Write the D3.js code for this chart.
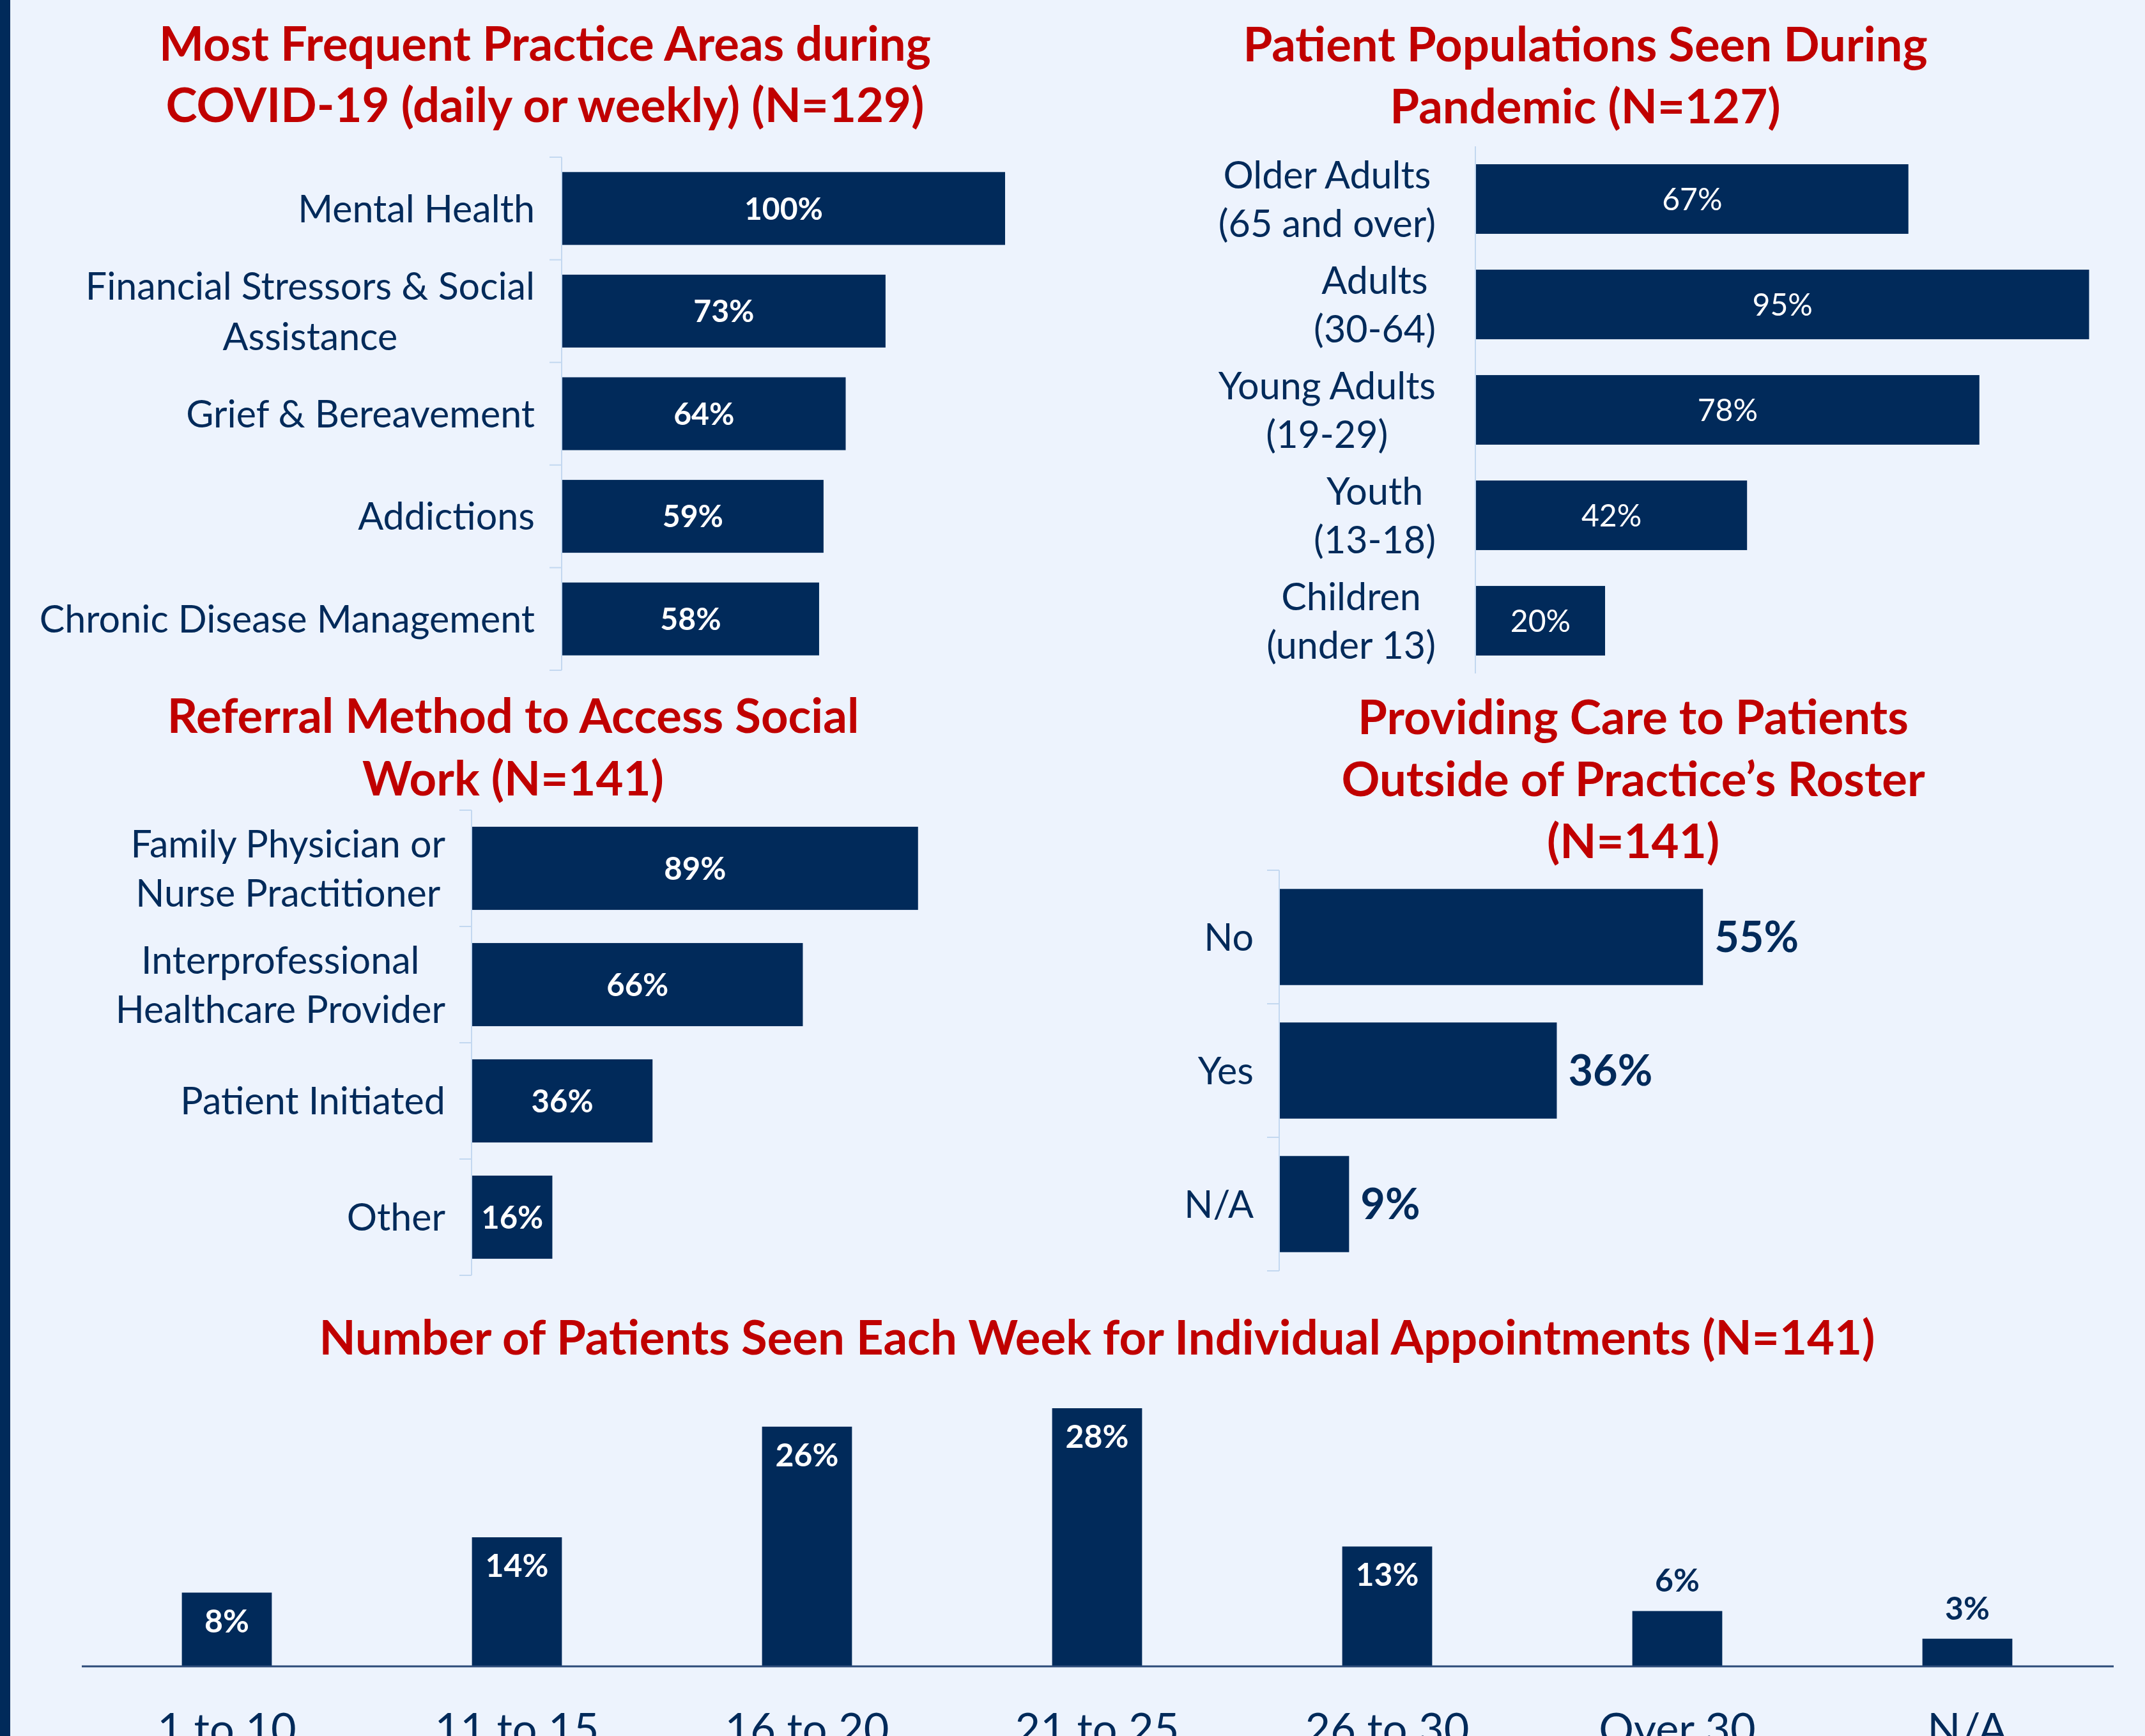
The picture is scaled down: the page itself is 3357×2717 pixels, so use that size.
<!DOCTYPE html>
<html>
<head>
<meta charset="utf-8">
<script src="https://cdn.jsdelivr.net/npm/d3@7"></script>
<style>
body { margin: 0; background: #edf3fd; overflow: hidden; }
text { font-family: Lato, "Open Sans", sans-serif; }
</style>
</head>
<body>
<script>
var W = 3357, H = 2717;
var NAVY = "#012a5a", RED = "#c00000", AXIS = "#c3d8f0", BG = "#edf3fd";
var FS = 0.925;  // Lato runs wider than the original font
var TFS = 0.94;  // same for the bold titles

// Most frequent practice areas
var practiceAreas = ["Mental Health", "Financial Stressors & Social\nAssistance", "Grief & Bereavement", "Addictions", "Chronic Disease Management"];
var practiceValues = [100, 73, 64, 59, 58];

// Patient populations
var populations = ["Older Adults\n(65 and over)", "Adults\n(30-64)", "Young Adults\n(19-29)", "Youth\n(13-18)", "Children\n(under 13)"];
var populationValues = [67, 95, 78, 42, 20];

// Referral method
var referrals = ["Family Physician or\nNurse Practitioner", "Interprofessional\nHealthcare Provider", "Patient Initiated", "Other"];
var referralValues = [89, 66, 36, 16];

// Outside roster
var rosterAnswers = ["No", "Yes", "N/A"];
var rosterValues = [55, 36, 9];

// Patients per week
var weeklyRanges = ["1 to 10", "11 to 15", "16 to 20", "21 to 25", "26 to 30", "Over 30", "N/A"];
var weeklyValues = [8, 14, 26, 28, 13, 6, 3];

var svg = d3.select("body").append("svg")
    .attr("width", W)
    .attr("height", H);

svg.append("rect").attr("width", W).attr("height", H).attr("fill", BG);
svg.append("rect").attr("width", 16).attr("height", H).attr("fill", NAVY);

function title(lines, cx, baselines) {
    var t = svg.append("text")
        .attr("text-anchor", "middle")
        .attr("fill", RED)
        .attr("font-weight", 700)
        .attr("font-size", 79 * TFS);
    lines.forEach(function(l, i) {
        t.append("tspan").attr("x", cx).attr("y", baselines[i]).text(l);
    });
}

// horizontal bar panel
function hbar(cfg) {
    var g = svg.append("g");
    var y = d3.scaleBand()
        .domain(cfg.cats)
        .range([cfg.top, cfg.bottom])
        .paddingInner(cfg.pad)
        .paddingOuter(cfg.pad / 2);
    var x = d3.scaleLinear().domain([0, 100]).range([cfg.x0, cfg.x0 + cfg.full]);

    g.append("line")
        .attr("x1", cfg.x0 - 1).attr("x2", cfg.x0 - 1)
        .attr("y1", cfg.top).attr("y2", cfg.bottom)
        .attr("stroke", AXIS).attr("stroke-width", 2);

    if (cfg.ticks) {
        g.selectAll(".tick")
            .data(d3.range(cfg.cats.length + 1))
            .enter().append("line")
            .attr("x1", cfg.x0 - 20).attr("x2", cfg.x0 - 1)
            .attr("y1", function(i) { return cfg.top + i * y.step(); })
            .attr("y2", function(i) { return cfg.top + i * y.step(); })
            .attr("stroke", AXIS).attr("stroke-width", 2);
    }

    var data = cfg.cats.map(function(c, i) { return {cat: c, v: cfg.values[i]}; });

    g.selectAll(".bar")
        .data(data)
        .enter().append("rect")
        .attr("x", x(0))
        .attr("y", function(d) { return y(d.cat); })
        .attr("width", function(d) { return x(d.v) - x(0); })
        .attr("height", y.bandwidth())
        .attr("fill", NAVY);

    // category labels: block right aligned, lines centred in it
    data.forEach(function(d) {
        var lines = d.cat.split("\n");
        var cy = y(d.cat) + y.bandwidth() / 2;
        var fsz = 64 * FS;
        var t = g.append("text")
            .attr("text-anchor", "middle")
            .attr("fill", NAVY)
            .attr("font-size", fsz);
        var spans = lines.map(function(l, i) {
            return t.append("tspan")
                .attr("x", 0)
                .attr("y", cy + (i - (lines.length - 1) / 2) * cfg.lh + fsz * 0.36)
                .text(l);
        });
        var w = d3.max(spans, function(s) { return s.node().getComputedTextLength(); });
        spans.forEach(function(s) { s.attr("x", cfg.labelRight - w / 2); });
    });

    // value labels
    g.selectAll(".val")
        .data(data)
        .enter().append("text")
        .attr("x", function(d) {
            return cfg.outside ? x(d.v) + 18 : (x(0) + x(d.v)) / 2;
        })
        .attr("y", function(d) { return y(d.cat) + y.bandwidth() / 2; })
        .attr("dy", "0.36em")
        .attr("text-anchor", cfg.outside ? "start" : "middle")
        .attr("fill", cfg.outside ? NAVY : "#ffffff")
        .attr("font-weight", cfg.bold ? 700 : 400)
        .attr("font-size", cfg.valueSize * FS)
        .text(function(d) { return d.v + "%"; });
}

title(["Most Frequent Practice Areas during", "COVID-19 (daily or weekly) (N=129)"], 853, [95, 191]);
hbar({cats: practiceAreas, values: practiceValues, top: 246, bottom: 1049, pad: 0.29,
      x0: 880, full: 693, labelRight: 837, lh: 79, ticks: true, bold: true, valueSize: 52});

title(["Patient Populations Seen During", "Pandemic (N=127)"], 2481, [96, 193]);
hbar({cats: populations, values: populationValues, top: 229, bottom: 1054, pad: 0.34,
      x0: 2310, full: 1010, labelRight: 2247, lh: 76, ticks: false, bold: false, valueSize: 52});

title(["Referral Method to Access Social", "Work (N=141)"], 803, [1147, 1245]);
hbar({cats: referrals, values: referralValues, top: 1268, bottom: 1996, pad: 0.285,
      x0: 739, full: 784, labelRight: 697, lh: 77, ticks: true, bold: true, valueSize: 53});

title(["Providing Care to Patients", "Outside of Practice\u2019s Roster", "(N=141)"], 2556, [1149, 1246, 1343]);
hbar({cats: rosterAnswers, values: rosterValues, top: 1362, bottom: 1989, pad: 0.28,
      x0: 2003, full: 1204, labelRight: 1962, lh: 77, ticks: true, bold: true, valueSize: 72, outside: true});

// weekly patients column chart
title(["Number of Patients Seen Each Week for Individual Appointments (N=141)"], 1717, [2120]);

var xb = d3.scaleBand().domain(weeklyRanges).range([128, 3306]).paddingInner(0.69).paddingOuter(0.345);
var yb = d3.scaleLinear().domain([0, 28]).range([2608, 2204]);
var weekly = weeklyRanges.map(function(c, i) { return {cat: c, v: weeklyValues[i]}; });

var bottom = svg.append("g");
bottom.selectAll(".col")
    .data(weekly)
    .enter().append("rect")
    .attr("x", function(d) { return xb(d.cat); })
    .attr("y", function(d) { return yb(d.v); })
    .attr("width", xb.bandwidth())
    .attr("height", function(d) { return yb(0) - yb(d.v); })
    .attr("fill", NAVY);

bottom.append("line")
    .attr("x1", 128).attr("x2", 3308)
    .attr("y1", yb(0)).attr("y2", yb(0))
    .attr("stroke", "#2c4a78").attr("stroke-width", 3);

// small values sit above their column
bottom.selectAll(".colval")
    .data(weekly)
    .enter().append("text")
    .attr("x", function(d) { return xb(d.cat) + xb.bandwidth() / 2; })
    .attr("y", function(d) { return d.v >= 8 ? yb(d.v) + 62 : yb(d.v) - 30; })
    .attr("text-anchor", "middle")
    .attr("fill", function(d) { return d.v >= 8 ? "#ffffff" : NAVY; })
    .attr("font-weight", 700)
    .attr("font-size", 54 * FS)
    .text(function(d) { return d.v + "%"; });

bottom.selectAll(".cat")
    .data(weeklyRanges)
    .enter().append("text")
    .attr("x", function(d) { return xb(d) + xb.bandwidth() / 2; })
    .attr("y", 2730)
    .attr("text-anchor", "middle")
    .attr("fill", NAVY)
    .attr("font-size", 74 * FS)
    .text(function(d) { return d; });
</script>
</body>
</html>
